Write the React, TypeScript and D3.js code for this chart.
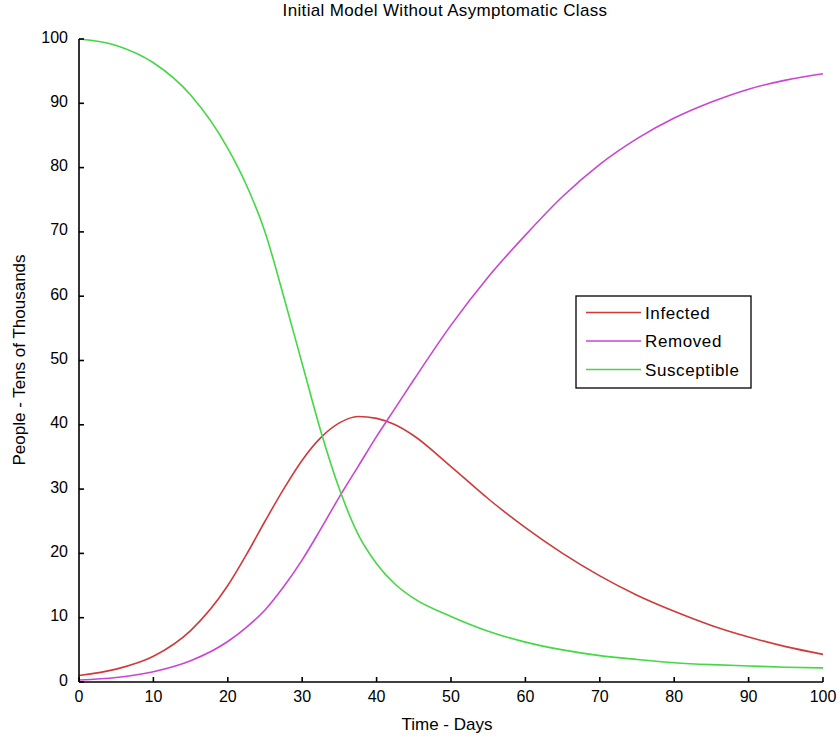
import React from "react";
import * as d3 from "d3";

const days = [0, 5, 10, 15, 20, 22.5, 25, 27.5, 30, 32.5, 35, 37.5, 40, 42.5, 45, 50, 55, 60, 65, 70, 75, 80, 85, 90, 95, 100];
const infected = [1.0, 2.0, 4.0, 8.0, 15.0, 19.8, 25.0, 30.0, 34.5, 38.0, 40.3, 41.3, 41.0, 40.0, 38.3, 33.5, 28.5, 24.0, 20.0, 16.5, 13.5, 11.0, 8.8, 7.0, 5.5, 4.3];
const removed = [0.3, 0.7, 1.6, 3.3, 6.3, 8.5, 11.2, 14.8, 19.0, 23.8, 28.8, 33.5, 38.2, 42.6, 47.0, 55.5, 63.0, 69.5, 75.5, 80.5, 84.5, 87.7, 90.2, 92.2, 93.6, 94.6];
const susceptible = [100, 99.0, 96.3, 91.3, 83.0, 77.3, 70.0, 60.0, 49.5, 39.0, 30.0, 23.0, 18.4, 15.2, 13.0, 10.2, 7.9, 6.2, 5.0, 4.1, 3.5, 3.0, 2.7, 2.5, 2.3, 2.2];

const xTicks = [0, 10, 20, 30, 40, 50, 60, 70, 80, 90, 100];
const yTicks = [0, 10, 20, 30, 40, 50, 60, 70, 80, 90, 100];

const seriesNames = ["Infected", "Removed", "Susceptible"];
const seriesColors = ["#d03a3a", "#cc44d4", "#44d844"];

export default function App() {
  const x = d3.scaleLinear().domain([0, 100]).range([79, 823]);
  const y = d3.scaleLinear().domain([0, 100]).range([682, 39]);
  const seriesData = [infected, removed, susceptible];
  const line = d3
    .line<number>()
    .x((_, i) => x(days[i]))
    .y((d) => y(d))
    .curve(d3.curveMonotoneX);
  const font = "'Liberation Sans', Arial, sans-serif";
  const legX = 576, legY = 296, legW = 175, legH = 92;
  const rowY = [312.5, 341, 369.5];

  return (
    <>
      <style>{`body{margin:0}`}</style>
      <svg width={838} height={740} style={{ display: "block", background: "#fff" }} fontFamily={font}>
        <text x={445} y={16} fontSize={17} letterSpacing={0.35} textAnchor="middle" fill="#000">
          Initial Model Without Asymptomatic Class
        </text>
        {seriesData.map((s, k) => (
          <path key={k} d={line(s) || ""} fill="none" stroke={seriesColors[k]} strokeWidth={1.6} />
        ))}
        <line x1={79} y1={y(100)} x2={79} y2={682} stroke="#000" strokeWidth={1.6} />
        <line x1={79} y1={682} x2={823} y2={682} stroke="#000" strokeWidth={1.6} />
        {yTicks.map((t) => (
          <g key={"y" + t}>
            <line x1={79} x2={84} y1={y(t)} y2={y(t)} stroke="#000" strokeWidth={1.6} />
            <text x={68} y={y(t) + 3.5} fontSize={16} textAnchor="end" fill="#000">
              {t}
            </text>
          </g>
        ))}
        {xTicks.map((t) => (
          <g key={"x" + t}>
            <line x1={x(t)} x2={x(t)} y1={682} y2={677} stroke="#000" strokeWidth={1.6} />
            <text x={x(t)} y={702} fontSize={16} textAnchor="middle" fill="#000">
              {t}
            </text>
          </g>
        ))}
        <text x={447} y={730} fontSize={17} textAnchor="middle" fill="#000">
          Time - Days
        </text>
        <text transform={`translate(25,360) rotate(-90)`} fontSize={17} textAnchor="middle" fill="#000">
          People - Tens of Thousands
        </text>
        <rect x={legX} y={legY} width={legW} height={legH} fill="#fff" stroke="#000" strokeWidth={1.3} />
        {seriesNames.map((n, k) => (
          <g key={n}>
            <line x1={586} x2={641} y1={rowY[k]} y2={rowY[k]} stroke={seriesColors[k]} strokeWidth={1.6} />
            <text x={645} y={rowY[k] + 6} fontSize={17} letterSpacing={0.6} fill="#000">
              {n}
            </text>
          </g>
        ))}
      </svg>
    </>
  );
}
